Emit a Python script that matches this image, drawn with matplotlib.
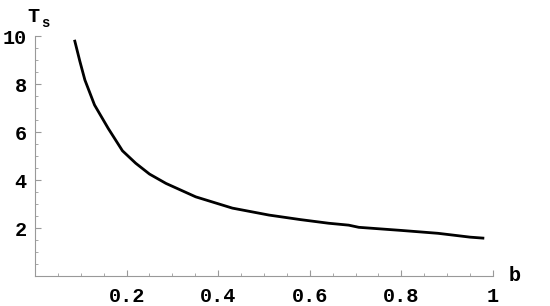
import matplotlib
matplotlib.use("Agg")
import matplotlib.pyplot as plt
from matplotlib.ticker import MultipleLocator

# curve
b = [0.087, 0.098, 0.109, 0.130, 0.160, 0.191, 0.220, 0.250, 0.286, 0.351,
     0.431, 0.511, 0.580, 0.641, 0.685, 0.707, 0.800, 0.880, 0.950, 0.978]
Ts = [9.79, 8.95, 8.17, 7.13, 6.15, 5.22, 4.70, 4.25, 3.86, 3.30,
      2.83, 2.54, 2.35, 2.20, 2.12, 2.03, 1.90, 1.78, 1.62, 1.58]

xticks = [0.2, 0.4, 0.6, 0.8, 1.0]
xticklabels = ["0.2", "0.4", "0.6", "0.8", "1"]
yticks = [2, 4, 6, 8, 10]

font = {'family': 'Liberation Mono', 'weight': 'bold'}

fig = plt.figure(figsize=(5.5, 3.06), dpi=100)
ax = fig.add_axes([0.0636, 0.098, 0.8327, 0.784])
ax.plot(b, Ts, color='black', lw=2.0)

ax.set_xlim(0, 1.0)
ax.set_ylim(0, 10)
for s in ['top', 'right']:
    ax.spines[s].set_visible(False)
for s in ['left', 'bottom']:
    ax.spines[s].set_color('#999999')
    ax.spines[s].set_linewidth(0.8)

ax.set_xticks(xticks)
ax.set_xticklabels(xticklabels, fontdict=font, fontsize=14.5)
ax.set_yticks(yticks)
ax.set_yticklabels([str(v) for v in yticks], fontdict=font, fontsize=14.5)
ax.xaxis.set_minor_locator(MultipleLocator(0.05))
ax.yaxis.set_minor_locator(MultipleLocator(0.5))
ax.tick_params(which='major', direction='in', length=4, width=0.8, color='#999999')
ax.tick_params(which='minor', direction='in', length=2.5, width=0.6, color='#999999')
ax.tick_params(axis='x', which='major', pad=8)
ax.tick_params(axis='y', which='major', pad=6)

fig.text(0.05, 0.945, 'T', fontdict=font, fontsize=14.5, ha='left', va='center')
fig.text(0.075, 0.925, 's', fontdict=font, fontsize=10, ha='left', va='center')
fig.text(0.925, 0.1, 'b', fontdict=font, fontsize=14.5, ha='left', va='center')

fig.savefig('out.png', dpi=100)
